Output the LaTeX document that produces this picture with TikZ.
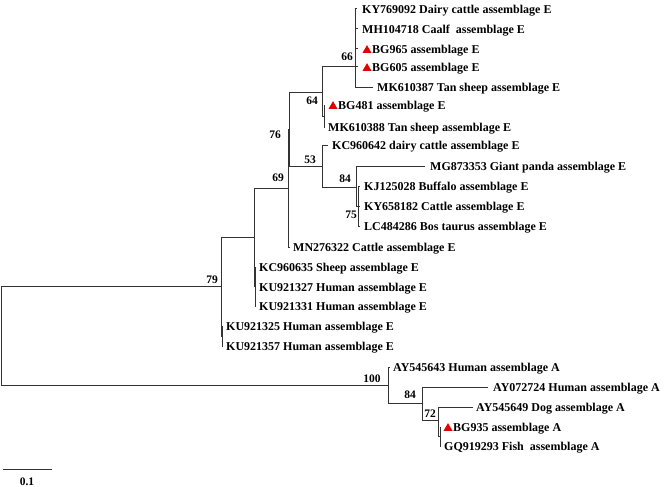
\documentclass[tikz,border=0pt]{standalone}
\usepackage{fontspec}
\setmainfont{Liberation Serif}
\usetikzlibrary{shapes.geometric}

\begin{document}
\begin{tikzpicture}[
        x=1pt, y=-1pt,
        every node/.style={font=\fontsize{12}{14}\selectfont\bfseries},
        ast/.style={draw=black!80, line width=1pt},
        blatt/.style={anchor=west, inner sep=0pt, text height=8.6pt, text depth=0pt},
        wert/.style={inner sep=0pt, font=\fontsize{11.5}{13}\selectfont\bfseries},
        dreieck/.style={regular polygon, regular polygon sides=3, fill=red!90!black,
                        inner sep=0pt, minimum size=10.4pt}
    ]
        \useasboundingbox (0,0) rectangle (664,487);

        % innere Knoten
        \coordinate (root) at (1,335.5);
        \coordinate (e79)  at (221,286);
        \coordinate (ku)   at (222,336);
        \coordinate (e1)   at (254,237);
        \coordinate (kc)   at (255,286.5);
        \coordinate (e69)  at (288,188);
        \coordinate (e76)  at (289,129);
        \coordinate (e64)  at (322,92);
        \coordinate (e66)  at (355,67);
        \coordinate (bg)   at (324,116);
        \coordinate (e53)  at (322,166);
        \coordinate (e84)  at (356,187);
        \coordinate (e75)  at (358,206);
        \coordinate (a100) at (388,385);
        \coordinate (a84)  at (422,403);
        \coordinate (a72)  at (438,420);
        \coordinate (af)   at (440,436.5);

        \draw[ast] (root) |- (e79);
        \draw[ast] (root) |- (a100);
        \draw[ast] (e79) |- (e1);
        \draw[ast] (e79) |- (ku);
        \draw[ast] (e1) |- (e69);
        \draw[ast] (e1) |- (kc);
        \draw[ast] (e69) |- (e76);
        \draw[ast] (e76) |- (e64);
        \draw[ast] (e76) |- (e53);
        \draw[ast] (e64) |- (e66);
        \draw[ast] (e64) |- (bg);
        \draw[ast] (e53) |- (e84);
        \draw[ast] (e84) |- (e75);
        \draw[ast] (a100) |- (a84);
        \draw[ast] (a84) |- (a72);
        \draw[ast] (a72) |- (af);

        % Blaetter, Assemblage E
        \coordinate (t1)  at (357,9);   \node[blatt] (ky769092) at (362,9)   {KY769092 Dairy cattle assemblage E};
        \coordinate (t2)  at (358,29);  \node[blatt] (mh104718) at (362,29)  {MH104718 Caalf~ assemblage E};
        \coordinate (t3)  at (358,49);  \node[dreieck] (m965) at (367,50.3) {};
        \node[blatt] (bg965) at (372,49)  {BG965 assemblage E};
        \coordinate (t4)  at (358,67);  \node[dreieck] (m605) at (367,68.3) {};
        \node[blatt] (bg605) at (372,67)  {BG605 assemblage E};
        \coordinate (t5)  at (373,87);  \node[blatt] (mk610387) at (377,87)  {MK610387 Tan sheep assemblage E};
        \coordinate (t6)  at (325,105); \node[dreieck] (m481) at (333,106.3) {};
        \node[blatt] (bg481) at (338,105) {BG481 assemblage E};
        \coordinate (t7)  at (325,127); \node[blatt] (mk610388) at (328,127) {MK610388 Tan sheep assemblage E};
        \coordinate (t8)  at (328,145); \node[blatt] (kc960642) at (332,145) {KC960642 dairy cattle assemblage E};
        \coordinate (t9)  at (425,166); \node[blatt] (mg873353) at (430,166) {MG873353 Giant panda assemblage E};
        \coordinate (t10) at (360,186); \node[blatt] (kj125028) at (364,186) {KJ125028 Buffalo assemblage E};
        \coordinate (t11) at (360,206); \node[blatt] (ky658182) at (364,206) {KY658182 Cattle assemblage E};
        \coordinate (t12) at (360,226); \node[blatt] (lc484286) at (364,226) {LC484286 Bos taurus assemblage E};
        \coordinate (t13) at (290,247); \node[blatt] (mn276322) at (293,247) {MN276322 Cattle assemblage E};
        \coordinate (t14) at (256,267); \node[blatt] (kc960635) at (259,267) {KC960635 Sheep assemblage E};
        \coordinate (t15) at (256,287); \node[blatt] (ku921327) at (259,287) {KU921327 Human assemblage E};
        \coordinate (t16) at (256,306); \node[blatt] (ku921331) at (259,306) {KU921331 Human assemblage E};
        \coordinate (t17) at (223,326); \node[blatt] (ku921325) at (226,326) {KU921325 Human assemblage E};
        \coordinate (t18) at (223,346); \node[blatt] (ku921357) at (226,346) {KU921357 Human assemblage E};

        % Blaetter, Assemblage A
        \coordinate (t19) at (390,367); \node[blatt] (ay545643) at (393,367) {AY545643 Human assemblage A};
        \coordinate (t20) at (488,387); \node[blatt] (ay072724) at (493,387) {AY072724 Human assemblage A};
        \coordinate (t21) at (473,407); \node[blatt] (ay545649) at (476,407) {AY545649 Dog assemblage A};
        \coordinate (t22) at (441,427); \node[dreieck] (m935) at (448,428.3) {};
        \node[blatt] (bg935) at (453,427) {BG935 assemblage A};
        \coordinate (t23) at (441,446); \node[blatt] (gq919293) at (444,446) {GQ919293 Fish~ assemblage A};

        \draw[ast] (e66) |- (t1);
        \draw[ast] (e66) |- (t2);
        \draw[ast] (e66) |- (t3);
        \draw[ast] (e66) |- (t4);
        \draw[ast] (e66) |- (t5);
        \draw[ast] (bg) |- (t6);
        \draw[ast] (bg) |- (t7);
        \draw[ast] (e53) |- (t8);
        \draw[ast] (e84) |- (t9);
        \draw[ast] (e75) |- (t10);
        \draw[ast] (e75) |- (t11);
        \draw[ast] (e75) |- (t12);
        \draw[ast] (e69) |- (t13);
        \draw[ast] (kc) |- (t14);
        \draw[ast] (kc) |- (t15);
        \draw[ast] (kc) |- (t16);
        \draw[ast] (ku) |- (t17);
        \draw[ast] (ku) |- (t18);
        \draw[ast] (a100) |- (t19);
        \draw[ast] (a84) |- (t20);
        \draw[ast] (a72) |- (t21);
        \draw[ast] (af) |- (t22);
        \draw[ast] (af) |- (t23);

        % Bootstrap-Werte
        \node[wert] (w66)  at (347,57)  {66};
        \node[wert] (w64)  at (312,101) {64};
        \node[wert] (w76)  at (275,135) {76};
        \node[wert] (w53)  at (310,160) {53};
        \node[wert] (w69)  at (278,178) {69};
        \node[wert] (w84)  at (345,179) {84};
        \node[wert] (w75)  at (351,215) {75};
        \node[wert] (w79)  at (212,280) {79};
        \node[wert] (w100) at (372,379) {100};
        \node[wert] (w84a) at (410,395) {84};
        \node[wert] (w72)  at (430,414) {72};

        % Massstab
        \coordinate (s0) at (3,469);
        \coordinate (s1) at (52,469);
        \draw[ast] (s0) -- (s1);
        \node[wert] (skala) at (27,482) {0.1};
    \end{tikzpicture}
\end{document}
